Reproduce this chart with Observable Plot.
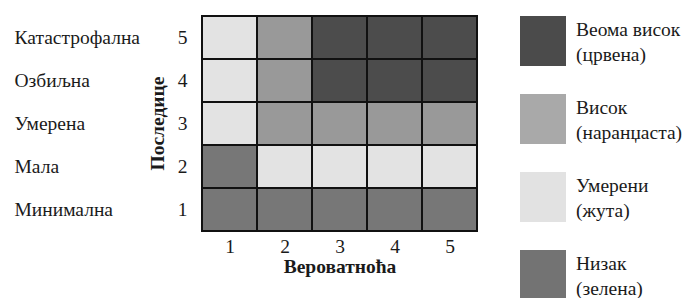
<!DOCTYPE html>
<html>
<head>
<meta charset="utf-8">
<script src="https://cdn.jsdelivr.net/npm/d3@7"></script>
<script src="https://cdn.jsdelivr.net/npm/@observablehq/plot@0.6"></script>
<style>
  html, body { margin: 0; padding: 0; background: #fff; overflow: hidden; }
  #wrap { position: relative; width: 685px; height: 298px; font-family: "Liberation Serif", "Times New Roman", "DejaVu Serif", serif; }
  #chart { position: absolute; left: 0; top: 0; }
  #legend { position: absolute; left: 520px; top: 16px; }
  .item { position: absolute; left: 0; width: 165px; height: 50px; }
  .sw { position: absolute; left: 0; top: 0; width: 46px; height: 50px; }
  .lab { position: absolute; left: 56px; top: 1px; font-size: 19.5px; line-height: 25px; color: #1a1a1a; white-space: nowrap; }
</style>
</head>
<body>
<div id="wrap"><div id="chart"></div><div id="legend"></div></div>
<script>
// Data
const likelihood = [1, 2, 3, 4, 5];
const consequence = [1, 2, 3, 4, 5];
const consequenceNames = ["Минимална", "Мала", "Умерена", "Озбиљна", "Катастрофална"];
// risk level per consequence row (1..5) across likelihood 1..5
const row1 = ["low", "low", "low", "low", "low"];
const row2 = ["low", "mod", "mod", "mod", "mod"];
const row3 = ["mod", "high", "high", "high", "high"];
const row4 = ["mod", "high", "vhigh", "vhigh", "vhigh"];
const row5 = ["mod", "high", "vhigh", "vhigh", "vhigh"];
const levels = ["vhigh", "high", "mod", "low"];
const levelLabels = [["Веома висок", "(црвена)"], ["Висок", "(наранџаста)"], ["Умерени", "(жута)"], ["Низак", "(зелена)"]];
const cellColors = ["#4c4c4c", "#999999", "#e3e3e3", "#777777"];
const legendColors = ["#4b4b4b", "#a9a9a9", "#e2e2e2", "#737373"];
const xTitle = "Вероватноћа";
const yTitle = "Последице";

const rows = [row1, row2, row3, row4, row5];
const cells = [];
consequence.forEach((c, i) => likelihood.forEach((l, j) => cells.push({l, c, level: rows[i][j]})));

const serif = "'Liberation Serif', 'Times New Roman', 'DejaVu Serif', serif";
const fs = 19.5;
const plot = Plot.plot({
  width: 500,
  height: 298,
  marginLeft: 200,
  marginRight: 21,
  marginTop: 15,
  marginBottom: 67,
  style: {fontFamily: serif, fontSize: fs + "px", color: "#1a1a1a", background: "#fff"},
  x: {type: "band", domain: likelihood, padding: 0, axis: null},
  y: {type: "band", domain: consequence.slice().reverse(), padding: 0, axis: null},
  color: {type: "ordinal", domain: levels, range: cellColors},
  marks: [
    Plot.cell(cells, {x: "l", y: "c", fill: "level", stroke: "#111", strokeWidth: 2, inset: 0}),
    Plot.axisX({tickSize: 0, tickPadding: 8, fontSize: fs, fontFamily: serif, label: null}),
    Plot.axisY({tickSize: 0, tickPadding: 13, fontSize: fs, fontFamily: serif, label: null}),
    Plot.text(consequence, {y: d => d, text: d => consequenceNames[d - 1], frameAnchor: "left", textAnchor: "start", dx: -186, fontSize: fs, fontFamily: serif}),
    Plot.text([xTitle], {frameAnchor: "bottom", dy: 41, text: d => d, fontWeight: "bold", fontSize: fs, fontFamily: serif}),
    Plot.text([yTitle], {frameAnchor: "left", textAnchor: "middle", dx: -43, rotate: -90, text: d => d, fontWeight: "bold", fontSize: fs, fontFamily: serif})
  ]
});
document.getElementById("chart").appendChild(plot);

const legend = document.getElementById("legend");
levels.forEach((lv, i) => {
  const item = document.createElement("div");
  item.className = "item";
  item.style.top = (i * 78) + "px";
  const sw = document.createElement("div");
  sw.className = "sw";
  sw.style.background = legendColors[i];
  const lab = document.createElement("div");
  lab.className = "lab";
  lab.innerHTML = levelLabels[i].join("<br>");
  item.appendChild(sw); item.appendChild(lab);
  legend.appendChild(item);
});
</script>
</body>
</html>
